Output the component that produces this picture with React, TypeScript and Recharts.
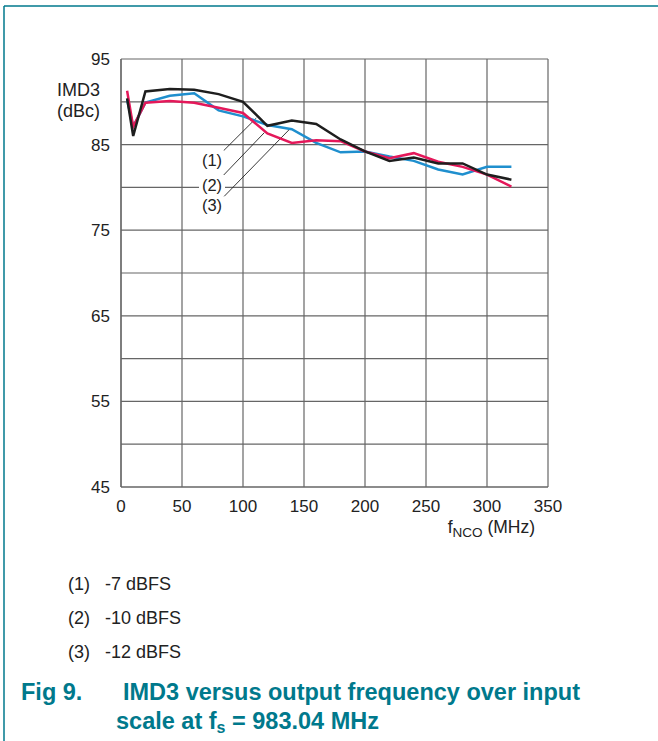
import React from "react";
import {
  LineChart,
  Line,
  XAxis,
  YAxis,
  CartesianGrid,
  ReferenceLine,
  ReferenceDot,
} from "recharts";

const freqs = [5, 10, 20, 40, 60, 80, 100, 120, 140, 160, 180, 200, 220, 240, 260, 280, 300, 320];
const dbfs7 = [90.4, 86.0, 91.2, 91.5, 91.4, 90.9, 90.0, 87.2, 87.8, 87.4, 85.6, 84.2, 83.1, 83.5, 82.8, 82.8, 81.5, 80.9];
const dbfs10 = [91.3, 87.1, 89.9, 90.1, 89.9, 89.3, 88.7, 86.3, 85.2, 85.5, 85.4, 84.2, 83.4, 84.0, 83.0, 82.4, 81.5, 80.1];
const dbfs12 = [90.2, 87.1, 89.9, 90.7, 91.0, 89.0, 88.3, 87.3, 86.8, 85.2, 84.1, 84.2, 83.6, 83.1, 82.1, 81.5, 82.4, 82.4];

const xTicks = [0, 50, 100, 150, 200, 250, 300, 350];
const yTicks = [45, 50, 55, 60, 65, 70, 75, 80, 85, 90, 95];
const yLabelled = [45, 55, 65, 75, 85, 95];

const legendItems = ["(1)", "(2)", "(3)"];
const legendTexts = ["-7 dBFS", "-10 dBFS", "-12 dBFS"];

// annotation anchors in data units (f, IMD3)
const calloutLabels = [
  { x: 74.6, y: 83.2, text: "(1)" },
  { x: 74.6, y: 80.3, text: "(2)" },
  { x: 74.6, y: 77.9, text: "(3)" },
];
const leaders = [
  [{ x: 84.2, y: 84.3 }, { x: 110.9, y: 88.1 }],
  [{ x: 84.2, y: 81.45 }, { x: 117.5, y: 86.4 }],
  [{ x: 84.2, y: 78.9 }, { x: 138.2, y: 86.8 }],
];

const data = freqs.map((f, i) => ({ f, a: dbfs7[i], b: dbfs10[i], c: dbfs12[i] }));

const FONT = "'Liberation Sans', Arial, Helvetica, sans-serif";
const TEAL = "#00798c";
const GRID = "#666666";

const CalloutShape = (text: string) => (props: any) => {
  const { cx, cy } = props;
  return (
    <g>
      <rect x={cx - 13} y={cy - 9} width={26} height={18} fill="#ffffff" />
      <text
        x={cx}
        y={cy + 6}
        textAnchor="middle"
        fontFamily={FONT}
        fontSize={16.5}
        fill="#222"
      >
        {text}
      </text>
    </g>
  );
};

export default function App() {
  return (
    <div style={{ position: "absolute", left: 0, top: 0, width: 658, height: 741, background: "#fff" }}>
      <LineChart
        width={658}
        height={741}
        data={data}
        margin={{ top: 59, right: 110, bottom: 224, left: 0 }}
      >
        <CartesianGrid stroke={GRID} strokeWidth={1.2} horizontalValues={yTicks} verticalValues={xTicks} />
        <XAxis
          type="number"
          dataKey="f"
          domain={[0, 350]}
          ticks={xTicks}
          interval={0}
          height={30}
          tickLine={false}
          axisLine={{ stroke: GRID, strokeWidth: 1.2 }}
          tick={{ fontFamily: FONT, fontSize: 17, fill: "#222" }}
          tickMargin={7}
        />
        <YAxis
          type="number"
          domain={[45, 95]}
          ticks={yTicks}
          interval={0}
          width={121}
          tickLine={false}
          axisLine={{ stroke: GRID, strokeWidth: 1.2 }}
          tick={{ fontFamily: FONT, fontSize: 17, fill: "#222" }}
          tickMargin={5}
          tickFormatter={(v: number) => (yLabelled.includes(v) ? String(v) : "")}
        />
        {leaders.map((seg, i) => (
          <ReferenceLine key={"l" + i} segment={seg} stroke="#222" strokeWidth={0.9} />
        ))}
        <Line dataKey="c" stroke="#1f8fce" strokeWidth={2.5} dot={false} isAnimationActive={false} />
        <Line dataKey="b" stroke="#e4185a" strokeWidth={2.5} dot={false} isAnimationActive={false} />
        <Line dataKey="a" stroke="#1e1e1e" strokeWidth={2.5} dot={false} isAnimationActive={false} />
        {calloutLabels.map((c, i) => (
          <ReferenceDot key={"d" + i} x={c.x} y={c.y} r={0} shape={CalloutShape(c.text)} />
        ))}
      </LineChart>
      <svg
        width={658}
        height={741}
        style={{ position: "absolute", left: 0, top: 0, pointerEvents: "none" }}
      >
        <line x1={4} y1={6} x2={658} y2={6} stroke={TEAL} strokeWidth={1.5} />
        <line x1={4} y1={6} x2={4} y2={741} stroke={TEAL} strokeWidth={1.5} />
        <text x={57} y={96} fontFamily={FONT} fontSize={18} fill="#222">IMD3</text>
        <text x={57} y={117} fontFamily={FONT} fontSize={18} fill="#222">(dBc)</text>
        <text x={535} y={533} textAnchor="end" fontFamily={FONT} fontSize={17.5} fill="#222">
          f<tspan fontSize={13.5} dy={4}>NCO</tspan>
          <tspan dy={-4}> (MHz)</tspan>
        </text>
        {legendItems.map((it, i) => (
          <g key={"g" + i}>
            <text x={68} y={590 + i * 34} fontFamily={FONT} fontSize={18} fill="#222">{it}</text>
            <text x={105} y={590 + i * 34} fontFamily={FONT} fontSize={18} fill="#222">{legendTexts[i]}</text>
          </g>
        ))}
        <text x={21} y={700} fontFamily={FONT} fontSize={23.5} fontWeight="bold" fill={TEAL}>Fig 9.</text>
        <text x={123} y={700} fontFamily={FONT} fontSize={23.5} fontWeight="bold" fill={TEAL}>
          IMD3 versus output frequency over input
        </text>
        <text x={116} y={729} fontFamily={FONT} fontSize={23.5} fontWeight="bold" fill={TEAL}>
          scale at f<tspan fontSize={16} dy={4}>s</tspan>
          <tspan dy={-4}> = 983.04 MHz</tspan>
        </text>
      </svg>
    </div>
  );
}
